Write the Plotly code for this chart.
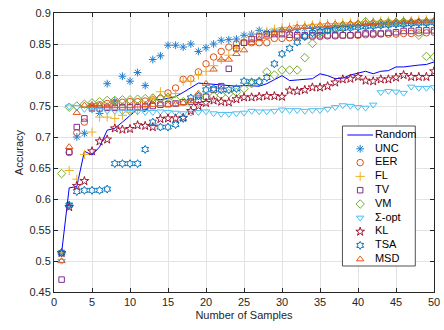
import plotly.graph_objects as go

# ---------------- data ----------------
n_samples = list(range(1, 51))
names = ["Random", "UNC", "EER", "FL", "TV", "VM", "Σ-opt", "KL", "TSA", "MSD"]

random_acc = [0.513,0.618,0.62,0.677,0.671,0.684,0.711,0.714,0.724,0.735,
              0.745,0.741,0.762,0.76,0.762,0.765,0.772,0.78,0.787,0.786,
              0.785,0.783,0.783,0.782,0.783,0.783,0.782,0.786,0.793,0.799,
              0.791,0.792,0.792,0.794,0.802,0.799,0.794,0.795,0.8,0.803,
              0.806,0.802,0.806,0.807,0.813,0.813,0.815,0.816,0.817,0.821]
unc = [0.513,0.59,0.70,0.706,0.75,0.738,0.786,0.758,0.798,0.79,
       0.804,0.783,0.825,0.831,0.848,0.848,0.845,0.85,0.838,0.844,
       0.85,0.856,0.857,0.858,0.864,0.866,0.872,0.869,0.871,0.873,
       0.872,0.873,0.875,0.875,0.876,0.876,0.877,0.878,0.878,0.879,
       0.88,0.88,0.881,0.881,0.882,0.883,0.883,0.884,0.884,0.885]
eer = [0.513,0.675,0.707,0.724,0.748,0.752,0.754,0.755,0.756,0.757,
       0.757,0.758,0.76,0.762,0.771,0.779,0.793,0.794,0.805,0.818,
       0.829,0.838,0.845,0.85,0.852,0.852,0.852,0.852,0.859,0.859,
       0.86,0.861,0.862,0.862,0.862,0.863,0.863,0.864,0.864,0.864,
       0.865,0.865,0.866,0.866,0.866,0.867,0.867,0.868,0.868,0.869]
fl = [0.513,0.646,0.632,0.672,0.708,0.732,0.732,0.73,0.735,0.74,
      0.743,0.748,0.762,0.773,0.765,0.77,0.79,0.79,0.80,0.806,
      0.815,0.825,0.832,0.843,0.855,0.862,0.866,0.87,0.874,0.876,
      0.877,0.88,0.88,0.881,0.882,0.883,0.883,0.884,0.884,0.885,
      0.886,0.886,0.887,0.887,0.887,0.888,0.888,0.889,0.889,0.89]
tv = [0.47,0.676,0.716,0.73,0.746,0.746,0.747,0.747,0.748,0.748,
      0.748,0.749,0.75,0.752,0.753,0.754,0.756,0.757,0.76,0.765,
      0.776,0.782,0.81,0.843,0.852,0.858,0.862,0.866,0.866,0.866,
      0.865,0.864,0.864,0.864,0.864,0.864,0.864,0.864,0.864,0.865,
      0.867,0.867,0.867,0.868,0.869,0.871,0.871,0.872,0.872,0.872]
vm = [0.641,0.748,0.75,0.753,0.755,0.757,0.759,0.759,0.76,0.76,
      0.761,0.762,0.763,0.763,0.764,0.76,0.757,0.755,0.757,0.764,
      0.766,0.768,0.77,0.772,0.778,0.786,0.79,0.805,0.80,0.808,
      0.808,0.808,0.828,0.851,0.868,0.874,0.876,0.878,0.88,0.882,
      0.886,0.884,0.884,0.885,0.885,0.886,0.884,0.864,0.83,0.829]
sigma_opt = [0.5,0.749,0.748,0.745,0.744,0.743,0.742,0.742,0.741,0.74,
             0.741,0.74,0.74,0.741,0.74,0.739,0.738,0.739,0.74,0.741,
             0.738,0.737,0.737,0.738,0.739,0.742,0.741,0.741,0.742,0.744,
             0.743,0.743,0.742,0.743,0.743,0.745,0.748,0.751,0.75,0.748,
             0.747,0.752,0.772,0.774,0.773,0.771,0.781,0.779,0.779,0.78]
kl = [0.513,0.587,0.621,0.629,0.677,0.693,0.696,0.714,0.712,0.713,
      0.719,0.718,0.716,0.729,0.73,0.73,0.731,0.742,0.75,0.755,
      0.759,0.757,0.756,0.761,0.764,0.764,0.765,0.766,0.766,0.765,
      0.775,0.774,0.776,0.78,0.78,0.782,0.788,0.793,0.794,0.797,
      0.791,0.79,0.793,0.793,0.796,0.8,0.797,0.797,0.797,0.806]
tsa = [0.513,0.59,0.612,0.614,0.614,0.614,0.616,0.657,0.657,0.657,
       0.657,0.68,0.724,0.716,0.716,0.72,0.73,0.763,0.766,0.776,
       0.778,0.776,0.776,0.778,0.79,0.789,0.789,0.796,0.818,0.834,
       0.843,0.853,0.862,0.868,0.87,0.872,0.874,0.875,0.876,0.877,
       0.878,0.879,0.88,0.881,0.882,0.882,0.883,0.884,0.884,0.885]
msd = [0.5,0.684,0.739,0.751,0.752,0.751,0.75,0.75,0.75,0.75,
       0.751,0.752,0.752,0.753,0.752,0.753,0.755,0.758,0.77,0.786,
       0.809,0.825,0.825,0.834,0.84,0.852,0.858,0.862,0.868,0.872,
       0.875,0.877,0.878,0.879,0.88,0.881,0.882,0.882,0.883,0.883,
       0.884,0.884,0.885,0.885,0.886,0.886,0.887,0.887,0.888,0.888]

x_ticks = [0, 5, 10, 15, 20, 25, 30, 35, 40, 45, 50]
y_ticks = [0.45, 0.5, 0.55, 0.6, 0.65, 0.7, 0.75, 0.8, 0.85, 0.9]
y_tick_labels = ["0.45", "0.5", "0.55", "0.6", "0.65", "0.7", "0.75", "0.8", "0.85", "0.9"]

# ---------------- styles ----------------
series = [unc, eer, fl, tv, vm, sigma_opt, kl, tsa, msd]
symbols = ["asterisk-open", "circle-open", "cross-thin-open", "square-open",
           "diamond-open", "triangle-down-open", "star-open", "hexagram-open",
           "triangle-up-open"]
colors = ["#1f7fcf", "#D95319", "#EDB120", "#7E2F8E", "#77AC30",
          "#4DBEEE", "#A2142F", "#0072BD", "#E2581C"]
sizes = [6.5, 6.5, 6.5, 5.5, 6.5, 6.5, 6.5, 6.0, 6.5]
FONT = "Liberation Sans, Arial, sans-serif"

fig = go.Figure()
fig.add_trace(go.Scatter(x=n_samples, y=random_acc, mode="lines",
                         line=dict(color="#0000FF", width=1), showlegend=False))
for vals, sym, col, sz in zip(series, symbols, colors, sizes):
    fig.add_trace(go.Scatter(x=n_samples, y=vals, mode="markers", showlegend=False,
                             marker=dict(symbol=sym, size=sz, color=col,
                                         line=dict(color=col, width=1))))

# ---------------- manual legend on an overlay axis (page-pixel coords) ----------------
LX0, LX1, LY0, LY1 = 347, 421, 126, 266
fig.add_trace(go.Scatter(x=[LX0, LX1, LX1, LX0, LX0], y=[LY0, LY0, LY1, LY1, LY0],
                         mode="lines", fill="toself", fillcolor="white",
                         line=dict(color="#262626", width=0.8),
                         xaxis="x2", yaxis="y2", showlegend=False, hoverinfo="skip"))
row_y = [135 + 13.8 * k for k in range(len(names))]
fig.add_trace(go.Scatter(x=[352, 378], y=[row_y[0], row_y[0]], mode="lines",
                         line=dict(color="#0000FF", width=1),
                         xaxis="x2", yaxis="y2", showlegend=False))
for k, (sym, col, sz) in enumerate(zip(symbols, colors, sizes)):
    fig.add_trace(go.Scatter(x=[365], y=[row_y[k + 1]], mode="markers",
                             marker=dict(symbol=sym, size=sz, color=col,
                                         line=dict(color=col, width=1)),
                             xaxis="x2", yaxis="y2", showlegend=False))
fig.add_trace(go.Scatter(x=[380] * len(names), y=row_y, mode="text", text=names,
                         textposition="middle right",
                         textfont=dict(family=FONT, size=11, color="#000000"),
                         xaxis="x2", yaxis="y2", showlegend=False))

axis_common = dict(showline=True, linecolor="#262626", linewidth=1, mirror="allticks",
                   ticks="inside", ticklen=4, tickcolor="#262626", tickwidth=1,
                   showgrid=True, gridcolor="#e3e3e3", gridwidth=1, zeroline=False,
                   ticklabeloverflow="allow",
                   tickfont=dict(family=FONT, size=11, color="#262626"))

fig.update_layout(
    width=444, height=330,
    margin=dict(l=54, r=4, t=13, b=38),
    paper_bgcolor="white", plot_bgcolor="white",
    showlegend=False,
    xaxis=dict(range=[0, 50], tickvals=x_ticks, ticktext=[str(t) for t in x_ticks],
               title=dict(text="Number of Samples", standoff=4,
                          font=dict(family=FONT, size=11, color="#262626")),
               **axis_common),
    yaxis=dict(range=[0.45, 0.9], tickvals=y_ticks, ticktext=y_tick_labels,
               title=dict(text="Accuracy", standoff=3,
                          font=dict(family=FONT, size=11, color="#262626")),
               **axis_common),
    xaxis2=dict(overlaying="x", anchor="y2", range=[54, 440], visible=False,
                showgrid=False, zeroline=False),
    yaxis2=dict(overlaying="y", anchor="x2", range=[292, 13], visible=False,
                showgrid=False, zeroline=False),
)

fig.write_html("out.html")
